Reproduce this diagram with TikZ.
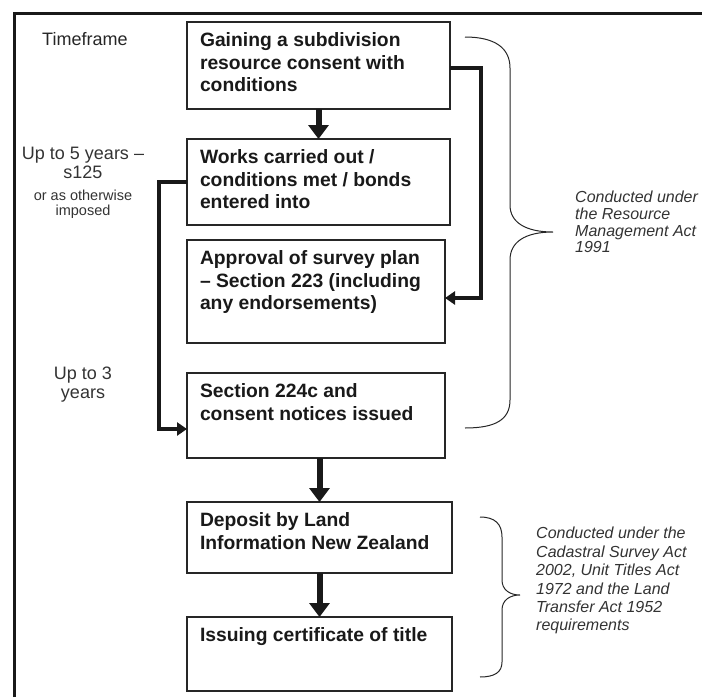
\documentclass[tikz,border=0pt]{standalone}
\usepackage{fontspec}
\setmainfont{Liberation Sans}
\usetikzlibrary{arrows.meta,calc}

\tikzset{
  box/.style={draw=black!85, line width=1.3pt, anchor=north west, inner xsep=13pt, inner ysep=0pt, outer sep=0pt, text=black!90, font=\fontsize{19.3}{22.5}\selectfont\bfseries},
  flow/.style={line width=6pt, black!90, -{Triangle[width=20pt,length=14pt]}},
  elbow/.style={line width=4.5pt, black!90, -{Triangle[width=13pt,length=10pt]}},
  brace/.style={line width=1pt, black!85},
  note/.style={font=\fontsize{16}{16.7}\selectfont\itshape, align=left, anchor=north west, inner sep=0pt, text=black!80},
  timelbl/.style={font=\fontsize{18}{19}\selectfont, align=center, inner sep=0pt, anchor=north, text=black!80}
}
\newcommand{\boxtext}[3]{\parbox[t][#1][t]{#2}{\rule{0pt}{24.5pt}#3}}

\begin{document}
\begin{tikzpicture}[x=1pt,y=-1pt]
\useasboundingbox (0,0) rectangle (702,697);
% frame
\draw[line width=3.5pt, black!90] (14.5,697) -- (14.5,13.5) -- (702,13.5);
% steps
\node[box] (b1) at (187,22) {\boxtext{87pt}{237pt}{Gaining a subdivision\\resource consent with\\conditions}};
\node[box] (b2) at (187,139) {\boxtext{86pt}{237pt}{Works carried out /\\conditions met / bonds\\entered into}};
\node[box] (b3) at (187,240) {\boxtext{103pt}{232pt}{Approval of survey plan\\-- Section 223 (including\\any endorsements)}};
\node[box] (b4) at (187,373) {\boxtext{85pt}{232pt}{Section 224c and\\consent notices issued}};
\node[box] (b5) at (187,502) {\boxtext{71pt}{239pt}{Deposit by Land\\Information New Zealand}};
\node[box] (b6) at (187,617) {\boxtext{74pt}{239pt}{Issuing certificate of title}};
% timeframe labels
\node[anchor=base west, inner sep=0pt, font=\fontsize{18}{19}\selectfont, text=black!85] (tf) at (42,45.5) {Timeframe};
\node[timelbl] (up5) at (83,147) {Up to 5 years --\\s125};
\node[timelbl, font=\fontsize{14.5}{15}\selectfont] (other) at (83,189.5) {or as otherwise\\imposed};
\node[timelbl] (up3) at (83,367) {Up to 3\\years};
% arrows
\draw[flow] (b1.south) -- (b2.north);
\draw[flow] (b4.south -| b5.north) -- (b5.north);
\draw[flow] (b5.south) -- (b6.north);
\draw[elbow] ([yshift=-2.5pt]b1.east) -- ++(31,0) |- ([yshift=-6.5pt]b3.east);
\draw[elbow] (b2.west) -- ++(-28,0) |- ([yshift=-13.5pt]b4.west);
% braces
\draw[brace] (465,37) .. controls (495,37) and (510,48) .. (510,68) -- (510,205)
  .. controls (510,222) and (525,232) .. (553,232)
  .. controls (525,232) and (510,242) .. (510,260) -- (510,400)
  .. controls (510,420) and (495,428) .. (465,428);
\draw[brace] (480,517) .. controls (495,517) and (502,524) .. (502,537) -- (502,580)
  .. controls (502,590) and (510,595) .. (520,595)
  .. controls (510,595) and (502,600) .. (502,610) -- (502,662)
  .. controls (502,672) and (495,677) .. (480,677);
\node[note] (rma) at (575,191) {Conducted under\\the Resource\\Management Act\\1991};
\node[note, font=\fontsize{16}{18.4}\selectfont\itshape] (cad) at (536,527) {Conducted under the\\Cadastral Survey Act\\2002, Unit Titles Act\\1972 and the Land\\Transfer Act 1952\\requirements};
\end{tikzpicture}
\end{document}
